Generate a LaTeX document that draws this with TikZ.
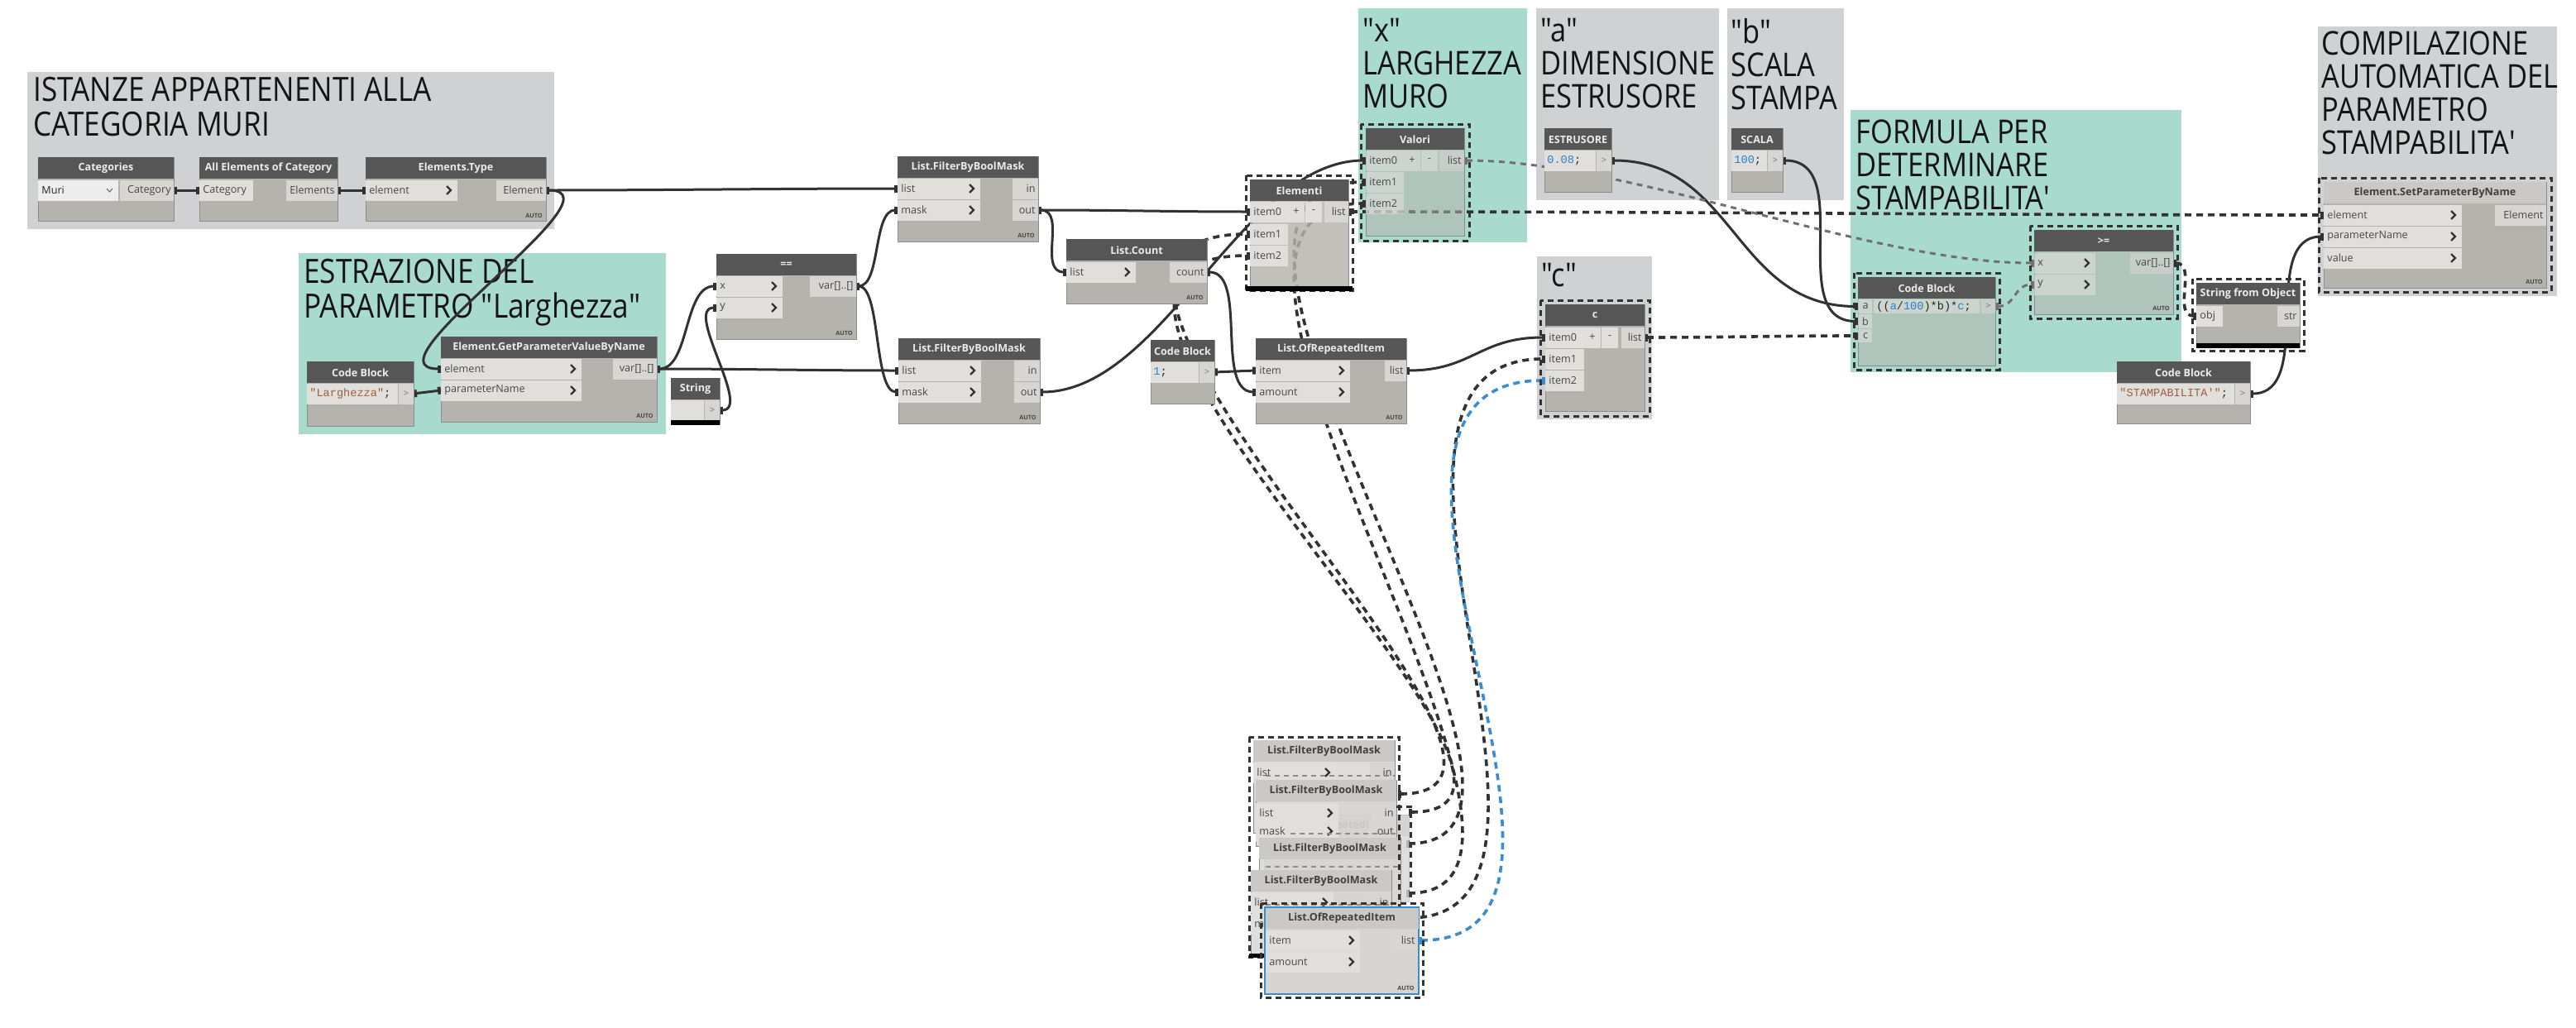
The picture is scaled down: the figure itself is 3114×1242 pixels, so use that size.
\documentclass[tikz,border=0pt]{standalone}
\usepackage{fontspec}
\setmainfont{Open Sans}
\setmonofont{Liberation Mono}
\newfontfamily\grpfont[FakeStretch=0.87]{Open Sans}
\usetikzlibrary{arrows.meta}
\pgfdeclarelayer{bg}
\pgfdeclarelayer{wires}
\pgfsetlayers{bg,wires,main}
\definecolor{ggray}{RGB}{207,209,210}
\definecolor{ggreen}{RGB}{168,218,205}
\definecolor{hdrc}{RGB}{86,86,86}
\definecolor{lhdrc}{RGB}{203,201,197}
\definecolor{bodyc}{RGB}{181,179,173}
\definecolor{ghostc}{RGB}{214,213,210}
\definecolor{prow}{RGB}{224,223,220}
\definecolor{orow}{RGB}{215,214,211}
\definecolor{wirec}{RGB}{50,50,50}
\definecolor{graywire}{RGB}{112,112,112}
\definecolor{bluec}{RGB}{58,142,208}
\definecolor{codebr}{RGB}{158,96,60}
\definecolor{codeblue}{RGB}{40,128,208}
\newcommand\dyNode[7]{%
  \node[nbody,#7,minimum width={(#4)*0.5pt},minimum height={(#5)*0.5pt}] (#1) at (#2,#3) {};
  \fill[hdrc] (#2,#3) rectangle ++(#4,26);
  \node[htext] (#1-t) at ({#2+#4/2},{#3+13.5}) {#6};}
\newcommand\dyNodeL[7]{%
  \node[nbody,#7,minimum width={(#4)*0.5pt},minimum height={(#5)*0.5pt}] (#1) at (#2,#3) {};
  \fill[lhdrc] (#2,#3) rectangle ++(#4,26);
  \node[htextd] (#1-t) at ({#2+#4/2},{#3+13.5}) {#6};}
\newcommand\dyIn[5]{%
  \fill[rowA] (#2,{#3-12.5}) rectangle ++(#4,25);
  \node[plabel,anchor=west] (#1-l) at ({#2+4},#3) {#5};
  \draw[chev] ({#2+#4-13},{#3-5}) -- ({#2+#4-8},#3) -- ({#2+#4-13},{#3+5});
  \coordinate (#1) at (#2,#3);}
\newcommand\dyInN[5]{%
  \fill[rowA] (#2,{#3-12.5}) rectangle ++(#4,25);
  \node[plabel,anchor=west] (#1-l) at ({#2+4},#3) {#5};
  \coordinate (#1) at (#2,#3);}
\newcommand\dyOut[5]{%
  \fill[rowB] ({#2-#4},{#3-12.5}) rectangle ++(#4,25);
  \node[plabel,anchor=east] (#1-l) at ({#2-3},#3) {#5};
  \coordinate (#1) at (#2,#3);}
\newcommand\dyAuto[3]{\node[autot,anchor=south east] (#1) at (#2,#3) {AUTO};}
\newcommand\dyCode[5]{%
  \fill[rowA] (#2,{#4-12.5}) rectangle ({#3-19},{#4+12.5});
  \node[code,anchor=west] (#1-l) at ({#2+3},#4) {#5};
  \fill[rowB] ({#3-18},{#4-12.5}) rectangle (#3,{#4+12.5});
  \node[codegt] (#1-g) at ({#3-9},#4) {>};
  \coordinate (#1) at (#3,#4);}
\newcommand\dyBtn[4]{%
  \fill[rowA] (#2,{#3-12.5}) rectangle ++(20,25);
  \node[plabel] (#1) at ({#2+10},#3) {#4};}
\begin{document}
\begin{tikzpicture}[x=0.5pt,y=-0.5pt,
  nbody/.style={anchor=north west,inner sep=0,outer sep=0,fill=bodyc,draw=black!45,line width=0.4pt},
  tint/.style={fill opacity=.55},
  ghost/.style={fill=ghostc,fill opacity=.8},
  rowA/.style={fill=prow},
  rowB/.style={fill=orow},
  htext/.style={inner sep=0,text=white!92!black,font=\bfseries\fontsize{6.3}{7}\selectfont},
  htextd/.style={inner sep=0,text=black!75,font=\bfseries\fontsize{6.3}{7}\selectfont},
  plabel/.style={inner sep=0,text=black!72,font=\fontsize{6.3}{7}\selectfont},
  code/.style={inner sep=0,text=black!85,font=\ttfamily\fontsize{6.8}{7}\selectfont},
  codegt/.style={inner sep=0,text=black!55,font=\fontsize{5.5}{6}\selectfont},
  autot/.style={inner sep=0,text=black!72,font=\bfseries\fontsize{3.6}{4}\selectfont},
  chev/.style={draw=black!80,line width=1.1pt},
  gtA/.style={anchor=north west,inner sep=0,align=left,text=black!92,font=\grpfont\fontsize{20.2}{21}\selectfont},
  gt/.style={anchor=north west,inner sep=0,align=left,text=black!92,font=\grpfont\fontsize{19.8}{20}\selectfont},
  nub/.style={arrows={Rectangle[length=2pt,width=4.5pt]-Rectangle[length=2pt,width=4.5pt]}},
  wr/.style={draw=wirec,line width=1.5pt,nub},
  dw/.style={draw=wirec,line width=1.8pt,dash pattern=on 4pt off 3pt,nub},
  dwb/.style={draw=bluec,line width=1.8pt,dash pattern=on 4pt off 3pt,nub},
  gw/.style={draw=graywire,line width=1.5pt,dash pattern=on 3.5pt off 3pt,nub},
  selb/.style={draw=black!80,line width=1.5pt,dash pattern=on 3.5pt off 2.5pt},
  rowdash/.style={draw=black!45,line width=0.8pt,dash pattern=on 3pt off 2.5pt}]
\useasboundingbox (0,0) rectangle (3114,1242);
% ---------------- groups
\begin{pgfonlayer}{bg}
\fill[white] (0,0) rectangle (3114,1242);
\fill[ggray] (33,87) rectangle (670,277);
\node[gtA] (gA) at (40,93) {ISTANZE APPARTENENTI ALLA\\CATEGORIA MURI};
\fill[ggreen] (361,306) rectangle (805,525);
\node[gtA] (gB) at (367,313) {ESTRAZIONE DEL\\PARAMETRO "Larghezza"};
\fill[ggreen] (1642,10) rectangle (1846,293);
\node[gt] (gC) at (1647,22) {"x"\\LARGHEZZA\\MURO};
\fill[ggray] (1857,10) rectangle (2078,242);
\node[gt] (gD) at (1862,22) {"a"\\DIMENSIONE\\ESTRUSORE};
\fill[ggray] (2088,10) rectangle (2229,242);
\node[gt] (gE) at (2092,22) {"b"\\SCALA\\STAMPA};
\fill[ggray] (1858,310) rectangle (1997,507);
\node[gt] (gF) at (1863,318) {"c"};
\fill[ggreen] (2237,133) rectangle (2637,450);
\node[gt] (gG) at (2243,144) {FORMULA PER\\DETERMINARE\\STAMPABILITA\textquotesingle};
\fill[ggray] (2802,32) rectangle (3091,358);
\node[gt] (gH) at (2806,37) {COMPILAZIONE\\AUTOMATICA DEL\\PARAMETRO\\STAMPABILITA\textquotesingle};
\end{pgfonlayer}
% ---------------- nodes
% Categories
\dyNode{cat}{46}{190}{164}{77}{Categories}{}
\fill[white!93!black] (46,217.5) rectangle (143,242.5);
\node[plabel,anchor=west,text=black!85] (cat-v) at (50,230) {Muri};
\draw[black!60,line width=0.5pt] (129,228) -- (132.5,232) -- (136,228);
\dyOut{cat-o}{210}{230}{65}{Category}
% All Elements of Category
\dyNode{cat2}{241}{190}{167}{77}{All Elements of Category}{}
\dyInN{cat2-i}{241}{230}{65}{Category}
\dyOut{cat2-o}{408}{230}{62}{Elements}
% Elements.Type
\dyNode{et}{442}{190}{218}{77}{Elements.Type}{}
\dyIn{et-i}{442}{230}{111}{element}
\dyOut{et-o}{660}{230}{60}{Element}
\dyAuto{et-a}{656}{264}
% Code Block Larghezza
\dyNode{cbl}{371}{437}{129}{78}{Code Block}{}
\dyCode{cbl-o}{371}{500}{476}{\textcolor{codebr}{"Larghezza"};}
% GetParameterValueByName
\dyNode{gp}{533}{407}{261}{103}{Element.GetParameterValueByName}{}
\dyIn{gp-el}{533}{446}{170}{element}
\dyIn{gp-pn}{533}{472}{170}{parameterName}
\dyOut{gp-o}{794}{446}{53}{var[]..[]}
\dyAuto{gp-a}{790}{506}
% String
\dyNode{str}{811}{457}{59}{56}{String}{}
\fill[rowA] (811,483.5) rectangle (851,508);
\fill[rowB] (852,483.5) rectangle (870,508);
\node[codegt] (str-g) at (861,496) {>};
\coordinate (str-o) at (870,496);
\fill[black] (811,508) rectangle (870,514);
% ==
\dyNode{eq}{866}{307}{169}{103}{==}{}
\dyIn{eq-x}{866}{346}{80}{x}
\dyIn{eq-y}{866}{372}{80}{y}
\dyOut{eq-o}{1035}{346}{56}{var[]..[]}
\dyAuto{eq-a}{1031}{406}
% FilterByBoolMask top
\dyNode{fbt}{1085}{189}{170}{103}{List.FilterByBoolMask}{}
\dyIn{fbt-list}{1085}{228}{100}{list}
\dyIn{fbt-mask}{1085}{254}{100}{mask}
\dyOut{fbt-in}{1255}{228}{31}{in}
\dyOut{fbt-out}{1255}{254}{31}{out}
\dyAuto{fbt-a}{1251}{288}
% FilterByBoolMask bottom
\dyNode{fbb}{1086}{409}{171}{103}{List.FilterByBoolMask}{}
\dyIn{fbb-list}{1086}{448}{100}{list}
\dyIn{fbb-mask}{1086}{474}{100}{mask}
\dyOut{fbb-in}{1257}{448}{31}{in}
\dyOut{fbb-out}{1257}{474}{31}{out}
\dyAuto{fbb-a}{1253}{508}
% List.Count
\dyNode{lc}{1289}{289}{170}{78}{List.Count}{}
\dyIn{lc-i}{1289}{329}{84}{list}
\dyOut{lc-o}{1459}{329}{45}{count}
\dyAuto{lc-a}{1455}{363}
% Code Block 1
\dyNode{cb1}{1391}{411}{77}{77}{Code Block}{}
\dyCode{cb1-o}{1391}{1468}{450}{\textcolor{codeblue}{1};}
% List.OfRepeatedItem
\dyNode{ori}{1518}{409}{182}{103}{List.OfRepeatedItem}{}
\dyIn{ori-it}{1518}{448}{114}{item}
\dyIn{ori-am}{1518}{474}{114}{amount}
\dyOut{ori-o}{1700}{448}{26}{list}
\dyAuto{ori-a}{1696}{508}
% Elementi
\dyNode{el}{1511}{217}{119}{131}{Elementi}{fill opacity=.82}
\dyInN{el-i0}{1511}{256}{46}{item0}
\dyBtn{el-bp}{1557}{256}{+}
\dyBtn{el-bm}{1578}{256}{-}
\dyOut{el-o}{1630}{256}{29}{list}
\dyInN{el-i1}{1511}{283}{46}{item1}
\dyInN{el-i2}{1511}{309}{46}{item2}
\draw[selb] (1506,212) rectangle (1635,351);
\fill[black] (1506,346) rectangle (1635,352);
% Valori
\begin{scope}[rowA/.style={fill=prow,fill opacity=.6},rowB/.style={fill=orow,fill opacity=.6}]
\dyNode{va}{1651}{155}{119}{130}{Valori}{tint}
\dyInN{va-i0}{1651}{194}{46}{item0}
\dyBtn{va-bp}{1697}{194}{+}
\dyBtn{va-bm}{1718}{194}{-}
\dyOut{va-o}{1770}{194}{30}{list}
\dyInN{va-i1}{1651}{220}{46}{item1}
\dyInN{va-i2}{1651}{246}{46}{item2}
\end{scope}
\draw[selb] (1645,150) rectangle (1776,291);
% ESTRUSORE
\dyNode{est}{1867}{155}{81}{77}{ESTRUSORE}{}
\dyCode{est-o}{1867}{1948}{194}{\textcolor{codeblue}{0.08};}
% SCALA
\dyNode{sc}{2093}{155}{62}{77}{SCALA}{}
\dyCode{sc-o}{2093}{2155}{194}{\textcolor{codeblue}{100};}
% c
\dyNode{cc}{1868}{368}{120}{129}{c}{}
\dyInN{c-i0}{1868}{408}{47}{item0}
\dyBtn{c-bp}{1915}{408}{+}
\dyBtn{c-bm}{1936}{408}{-}
\dyOut{c-o}{1988}{408}{28}{list}
\dyInN{c-i1}{1868}{434}{47}{item1}
\dyInN{c-i2}{1868}{460}{47}{item2}
\draw[selb] (1862,363) rectangle (1994,503);
% Formula code block
\begin{scope}[rowA/.style={fill=prow,fill opacity=.6},rowB/.style={fill=orow,fill opacity=.6}]
\dyNode{fo}{2246}{335}{166}{107}{Code Block}{tint}
\fill[rowA] (2246,362) rectangle (2263,379);
\fill[rowA] (2246,380) rectangle (2263,397);
\fill[rowA] (2246,398) rectangle (2263,414);
\node[plabel] (fo-al) at (2255,370.5) {a};
\node[plabel] (fo-bl) at (2255,388.5) {b};
\node[plabel] (fo-cl) at (2255,406) {c};
\fill[rowA] (2265,362) rectangle (2393,379);
\node[code,anchor=west] (fo-code) at (2268,370.5) {((\textcolor{codeblue}{a}/\textcolor{codeblue}{100})*b)*\textcolor{codeblue}{c};};
\fill[rowB] (2395,362) rectangle (2412,379);
\node[codegt] (fo-g) at (2403.5,370.5) {>};
\end{scope}
\coordinate (fo-a) at (2246,370.5);
\coordinate (fo-b) at (2246,388.5);
\coordinate (fo-c) at (2246,406);
\coordinate (fo-o) at (2412,370.5);
\draw[selb] (2241,330) rectangle (2417,447);
% >=
\begin{scope}[rowA/.style={fill=prow,fill opacity=.6},rowB/.style={fill=orow,fill opacity=.6}]
\dyNode{ge}{2459}{278}{168}{102}{>=}{tint}
\dyIn{ge-x}{2459}{318}{74}{x}
\dyIn{ge-y}{2459}{344}{74}{y}
\dyOut{ge-o}{2627}{318}{52}{var[]..[]}
\dyAuto{ge-a}{2623}{376}
\end{scope}
\draw[selb] (2454,273) rectangle (2632,385);
% String from Object
\dyNode{sfo}{2655}{342}{125}{78}{String from Object}{}
\dyInN{sfo-i}{2655}{382}{32}{obj}
\dyOut{sfo-o}{2780}{382}{27}{str}
\fill[black] (2655,415) rectangle (2780,421);
\draw[selb] (2650,337) rectangle (2785,424);
% Code Block STAMPABILITA'
\dyNode{cbs}{2559}{437}{161}{75}{Code Block}{}
\dyCode{cbs-o}{2559}{2720}{476}{\textcolor{codebr}{"STAMPABILITA'"};}
% SetParameterByName
\dyNodeL{sp}{2809}{220}{269}{128}{Element.SetParameterByName}{}
\dyIn{sp-el}{2809}{260}{167}{element}
\dyIn{sp-pn}{2809}{286}{167}{parameterName}
\dyIn{sp-va}{2809}{312}{167}{value}
\dyOut{sp-o}{3078}{260}{62}{Element}
\dyAuto{sp-a}{3074}{344}
\draw[selb] (2803,215) rectangle (3084,353);
% ---------------- bottom stack
\dyNodeL{f1}{1515}{895}{171}{112}{List.FilterByBoolMask}{ghost}
\dyIn{f1-l}{1515}{934}{100}{list}
\dyOut{f1-in}{1686}{934}{30}{in}
\coordinate (f1-o) at (1690,960);
\draw[rowdash] (1530,938) -- (1686,938);
\begin{scope}[opacity=.45]
\dyNodeL{g}{1528}{985}{175}{105}{List.OfRepeatedItem}{ghost}
\end{scope}
\coordinate (g-o) at (1703,982);
\dyNodeL{f2}{1518}{943}{170}{80}{List.FilterByBoolMask}{ghost}
\dyIn{f2-l}{1518}{983}{100}{list}
\dyOut{f2-in}{1688}{983}{30}{in}
\dyIn{f2-m}{1518}{1005}{100}{mask}
\dyOut{f2-out}{1688}{1005}{32}{out}
\coordinate (f2-o) at (1700,1020);
\draw[rowdash] (1560,1008) -- (1688,1008);
\dyNodeL{f3}{1522}{1013}{171}{90}{List.FilterByBoolMask}{ghost}
\draw[rowdash] (1530,1048) -- (1693,1048);
\coordinate (f3-o) at (1700,1080);
\dyNodeL{f4}{1512}{1052}{170}{103}{List.FilterByBoolMask}{ghost}
\dyIn{f4-l}{1512}{1091}{100}{list}
\dyOut{f4-in}{1682}{1091}{30}{in}
\dyIn{f4-m}{1512}{1117}{100}{mask}
\dyOut{f4-out}{1682}{1117}{32}{out}
\draw[rowdash] (1530,1094) -- (1682,1094);
\dyAuto{f4-a}{1650}{1148}
\coordinate (f4-o) at (1700,1110);
\draw[selb] (1510,891) rectangle (1691,1157);
\draw[selb] (1688,975) -- (1705,975) -- (1705,1090);
\fill[black] (1510,1153) rectangle (1560,1158);
\node[nbody,fill=ghostc,draw=bluec,line width=1.2pt,minimum width={186*0.5pt},minimum height={105*0.5pt}] (ori2) at (1529,1097) {};
\fill[lhdrc] (1529.5,1097.5) rectangle (1714.5,1123);
\node[htextd] (ori2-t) at (1622,1110.5) {List.OfRepeatedItem};
\dyIn{ori2-it}{1530}{1137}{114}{item}
\dyIn{ori2-am}{1530}{1163}{114}{amount}
\dyOut{ori2-out}{1714}{1137}{30}{list}
\coordinate (ori2-o) at (1715,1137);
\dyAuto{ori2-a}{1710}{1198}
\draw[selb] (1524,1092) rectangle (1720,1206);
% ---------------- wires
\begin{pgfonlayer}{wires}
\draw[wr] (cat-o) -- (cat2-i);
\draw[wr] (cat2-o) -- (et-i);
\draw[wr] (et-o) .. controls +(150,0) and +(-150,0) .. (fbt-list);
\draw[wr] (et-o) .. controls +(100,0) and +(-100,0) .. (gp-el);
\draw[wr] (cbl-o) -- (gp-pn);
\draw[wr] (gp-o) .. controls +(40,0) and +(-40,0) .. (eq-x);
\draw[wr] (gp-o) .. controls +(100,0) and +(-100,0) .. (fbb-list);
\draw[wr] (str-o) .. controls +(40,0) and +(-40,0) .. (eq-y);
\draw[wr] (eq-o) .. controls +(30,0) and +(-30,0) .. (fbt-mask);
\draw[wr] (eq-o) .. controls +(30,0) and +(-30,0) .. (fbb-mask);
\draw[wr] (fbt-out) .. controls +(100,0) and +(-100,0) .. (el-i0);
\draw[wr] (fbt-out) .. controls +(35,0) and +(-35,0) .. (lc-i);
\draw[wr] (fbb-out) .. controls +(150,0) and +(-150,0) .. (va-i0);
\draw[wr] (lc-o) .. controls +(50,0) and +(-50,0) .. (ori-am);
\draw[wr] (cb1-o) -- (ori-it);
\draw[wr] (ori-o) .. controls +(80,0) and +(-80,0) .. (c-i0);
\draw[wr] (est-o) .. controls +(150,0) and +(-150,0) .. (fo-a);
\draw[wr] (sc-o) .. controls +(90,0) and +(-90,0) .. (fo-b);
\draw[wr] (cbs-o) .. controls +(80,0) and +(-80,0) .. (sp-pn);
\draw[dw] (el-o) .. controls +(400,0) and +(-400,0) .. (sp-el);
\draw[dw] (c-o) .. controls +(100,0) and +(-100,0) .. (fo-c);
\draw[dw] (ge-o) .. controls +(30,0) and +(-30,0) .. (sfo-i);
\draw[gw] (va-o) .. controls +(200,0) and +(-200,0) .. (ge-x);
\draw[gw] (fo-o) .. controls +(25,0) and +(-25,0) .. (ge-y);
\draw[dw] (f1-o) .. controls +(260,0) and +(-350,0) .. (el-i1);
\draw[dw] (g-o) .. controls +(260,0) and +(-350,0) .. (el-i2);
\draw[dw] (f2-o) .. controls +(260,0) and +(-300,0) .. (va-i1);
\draw[dw] (f3-o) .. controls +(260,0) and +(-300,0) .. (va-i2);
\draw[dw] (f4-o) .. controls +(260,0) and +(-280,0) .. (c-i1);
\draw[dwb] (ori2-o) .. controls +(280,0) and +(-300,0) .. (c-i2);
\end{pgfonlayer}
\end{tikzpicture}
\end{document}
